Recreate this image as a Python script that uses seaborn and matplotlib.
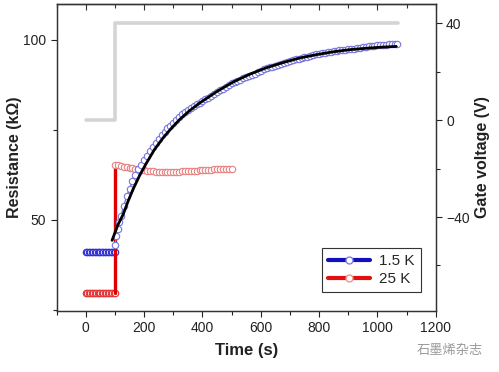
import numpy as np
import pandas as pd
import matplotlib
matplotlib.use("Agg")
import matplotlib.pyplot as plt
from matplotlib.lines import Line2D
from matplotlib.ticker import MultipleLocator
import seaborn as sns

# ---------------- data ----------------
# 1.5 K, before gate step
t_blue_pre = [0, 5, 10, 15, 20, 25, 30, 35, 40, 45, 50, 55, 60, 65, 70, 75, 80, 85, 90, 95, 100]
r_blue_pre = [41.1, 41.1, 41.1, 41.1, 41.1, 41.1, 41.1, 41.1, 41.1, 41.1, 41.1,
              41.1, 41.1, 41.1, 41.1, 41.1, 41.1, 41.1, 41.1, 41.1, 41.2]
# 1.5 K, after gate step
t_blue = [100, 105, 110, 115, 120, 130, 140, 150, 160, 170, 180, 190, 200, 210,
          220, 230, 240, 250, 260, 270, 280, 290, 300, 310, 320, 330, 340, 350,
          360, 370, 380, 390, 400, 410, 420, 430, 440, 450, 460, 470, 480, 490,
          500, 510, 520, 530, 540, 550, 560, 570, 580, 590, 600, 610, 620, 630,
          640, 650, 660, 670, 680, 690, 700, 710, 720, 730, 740, 750, 760, 770,
          780, 790, 800, 810, 820, 830, 840, 850, 860, 870, 880, 890, 900, 910,
          920, 930, 940, 950, 960, 970, 980, 990, 1000, 1010, 1020, 1030, 1040,
          1050, 1060, 1068]
r_blue = [43.0, 45.5, 47.5, 49.3, 51.0, 53.9, 56.5, 58.7, 60.7, 62.4, 64.0, 65.3,
          66.6, 67.8, 69.0, 70.2, 71.3, 72.4, 73.5, 74.5, 75.4, 76.2, 77.0, 77.8,
          78.6, 79.3, 80.0, 80.6, 81.2, 81.7, 82.2, 82.6, 83.0, 83.5, 84.0, 84.5,
          84.9, 85.4, 86.0, 86.5, 87.0, 87.5, 87.9, 88.3, 88.6, 89.0, 89.3, 89.6,
          89.9, 90.2, 90.6, 91.0, 91.4, 91.8, 92.1, 92.4, 92.6, 92.9, 93.1, 93.4,
          93.6, 93.9, 94.1, 94.4, 94.6, 94.8, 95.0, 95.2, 95.4, 95.6, 95.8, 96.0,
          96.1, 96.3, 96.4, 96.6, 96.7, 96.9, 97.0, 97.1, 97.2, 97.3, 97.4, 97.5,
          97.6, 97.8, 97.9, 98.0, 98.1, 98.2, 98.3, 98.4, 98.5, 98.5, 98.6, 98.7,
          98.8, 98.8, 98.9, 99.0]
# fit (black)
t_fit = [90, 110, 128, 145, 162, 185, 208, 235, 265, 295, 322, 355, 391, 450,
         505, 560, 620, 680, 734, 790, 848, 905, 962, 1015, 1065]
r_fit = [44.3, 48.6, 51.5, 55.2, 58.5, 62.4, 65.8, 69.5, 72.8, 75.6, 77.9, 80.3,
         82.5, 85.7, 88.3, 90.4, 92.3, 93.8, 95.0, 95.9, 96.7, 97.3, 97.7, 98.0,
         98.2]
# 25 K, before gate step
t_red_pre = [0, 5, 10, 15, 20, 25, 30, 35, 40, 45, 50, 55, 60, 65, 70, 75, 80, 85, 90, 95, 100]
r_red_pre = [29.6, 29.6, 29.6, 29.6, 29.6, 29.6, 29.6, 29.6, 29.6, 29.6, 29.6,
             29.6, 29.6, 29.6, 29.6, 29.6, 29.7, 29.7, 29.7, 29.7, 29.7]
# 25 K jump
t_red_jump = [100, 100]
r_red_jump = [29.7, 65.3]
# 25 K, after gate step
t_red = [100, 110, 120, 130, 140, 150, 160, 170, 180, 190, 200, 210, 220, 230,
         240, 250, 260, 270, 280, 290, 300, 310, 320, 330, 340, 350, 360, 370,
         380, 390, 400, 410, 420, 430, 440, 450, 460, 470, 480, 490, 500]
r_red = [65.3, 65.2, 65.0, 64.8, 64.6, 64.45, 64.3, 64.15, 64.0, 63.9, 63.8, 63.7,
         63.6, 63.5, 63.4, 63.35, 63.3, 63.3, 63.3, 63.3, 63.3, 63.35, 63.4, 63.45,
         63.5, 63.55, 63.6, 63.65, 63.7, 63.75, 63.8, 63.85, 63.9, 63.95, 64.0,
         64.0, 64.0, 64.05, 64.1, 64.1, 64.1]
# gate voltage
t_gate = [0, 100, 100, 1070]
v_gate = [0, 0, 40, 40]

labels = ["1.5 K", "25 K"]

# ---------------- style ----------------
sns.set_style("ticks")
plt.rcParams["font.family"] = ["Liberation Sans", "DejaVu Sans"]
plt.rcParams["axes.edgecolor"] = "#333333"
plt.rcParams["axes.linewidth"] = 0.9

BLUE_D = "#2a2ad0"
BLUE_L = "#7676dc"
RED_D = "#e03030"
RED_L = "#e88080"
GRAY = "#d4d4d4"

fig = plt.figure(figsize=(4.99, 3.72), dpi=100)
ax = fig.add_axes([0.1136, 0.1653, 0.7595, 0.824])
ax2 = ax.twinx()

# gate voltage on the right axis (behind)
sns.lineplot(x=t_gate, y=v_gate, ax=ax2, sort=False, estimator=None,
             color=GRAY, lw=2.6, legend=False)

mk = dict(marker="o", markersize=4.6, markerfacecolor="white", markeredgewidth=0.8)

sns.lineplot(x=t_blue_pre, y=r_blue_pre, ax=ax, sort=False, estimator=None,
             color=BLUE_D, lw=1.5, markeredgecolor=BLUE_D, legend=False, **mk)
sns.lineplot(x=t_red_pre, y=r_red_pre, ax=ax, sort=False, estimator=None,
             color=RED_D, lw=1.5, markeredgecolor=RED_D, legend=False, **mk)
sns.lineplot(x=t_red_jump, y=r_red_jump, ax=ax, sort=False, estimator=None,
             color="#e00000", lw=2.4, legend=False)
sns.lineplot(x=t_red, y=r_red, ax=ax, sort=False, estimator=None,
             color=RED_L, lw=1.0, markeredgecolor=RED_L, legend=False, **mk)
sns.lineplot(x=t_blue, y=r_blue, ax=ax, sort=False, estimator=None,
             color=BLUE_L, lw=1.0, markeredgecolor=BLUE_L, legend=False, **mk)
sns.lineplot(x=t_fit, y=r_fit, ax=ax, sort=False, estimator=None,
             color="black", lw=2.0, legend=False)

# put left axes above the twin
ax.set_zorder(ax2.get_zorder() + 1)
ax.patch.set_visible(False)

# axes limits / ticks
ax.set_xlim(-100, 1200)
ax.set_ylim(24.8, 110)
ax2.set_ylim(-78.6, 48)

ax.xaxis.set_major_locator(MultipleLocator(200))
ax.xaxis.set_minor_locator(MultipleLocator(100))
ax.yaxis.set_major_locator(MultipleLocator(50))
ax.yaxis.set_minor_locator(MultipleLocator(25))
ax2.yaxis.set_major_locator(MultipleLocator(40))
ax2.yaxis.set_minor_locator(MultipleLocator(20))

ax.tick_params(axis="x", which="both", direction="out", top=False, bottom=True,
               labelsize=10, colors="#222222")
ax.tick_params(axis="x", which="major", length=4, width=0.8)
ax.tick_params(axis="x", which="minor", length=3, width=0.8)
ax.tick_params(axis="y", which="major", direction="out", length=4, width=0.8,
               labelsize=10, colors="#222222")
ax.tick_params(axis="y", which="minor", direction="out", length=3, width=0.8)
ax2.tick_params(axis="y", which="major", direction="out", length=4, width=0.8,
                labelsize=10, colors="#222222")
ax2.tick_params(axis="y", which="minor", direction="out", length=3, width=0.8)

# top ticks point inward
secx = ax.secondary_xaxis("top")
secx.xaxis.set_major_locator(MultipleLocator(200))
secx.xaxis.set_minor_locator(MultipleLocator(100))
secx.tick_params(axis="x", which="both", direction="in", labeltop=False, colors="#333333")
secx.tick_params(axis="x", which="major", length=4, width=0.8)
secx.tick_params(axis="x", which="minor", length=3, width=0.8)

for a in (ax, ax2):
    for s in a.spines.values():
        s.set_visible(True)
        s.set_color("#333333")
        s.set_linewidth(0.9)

ax.set_xlabel("Time (s)", fontsize=12, fontweight="bold", color="#222222", labelpad=6)
ax.set_ylabel("Resistance (k\u03a9)", fontsize=11.5, fontweight="bold", color="#222222", labelpad=1)
ax2.set_ylabel("Gate voltage (V)", fontsize=11.5, fontweight="bold", color="#222222", labelpad=4)

# legend
handles = [
    Line2D([], [], color="#1010c0", lw=3, marker="o", markersize=5,
           markerfacecolor="white", markeredgecolor="#8080e0"),
    Line2D([], [], color="#e01010", lw=3, marker="o", markersize=5,
           markerfacecolor="white", markeredgecolor="#f09090"),
]
leg = ax.legend(handles, labels, loc="lower right", bbox_to_anchor=(0.96, 0.059),
                borderaxespad=0, fontsize=11, frameon=True, fancybox=False,
                edgecolor="#333333", handlelength=2.7, handletextpad=0.6,
                borderpad=0.4, labelspacing=0.25, numpoints=1)
leg.get_frame().set_linewidth(0.8)
leg.get_frame().set_alpha(1)

# watermark
fig.text(0.968, 0.058, "石墨烯杂志", fontsize=9.5, color="#9a9a9a", ha="right",
         va="center", family=["Noto Sans CJK SC", "DejaVu Sans"])

fig.savefig("out.png", dpi=100)
